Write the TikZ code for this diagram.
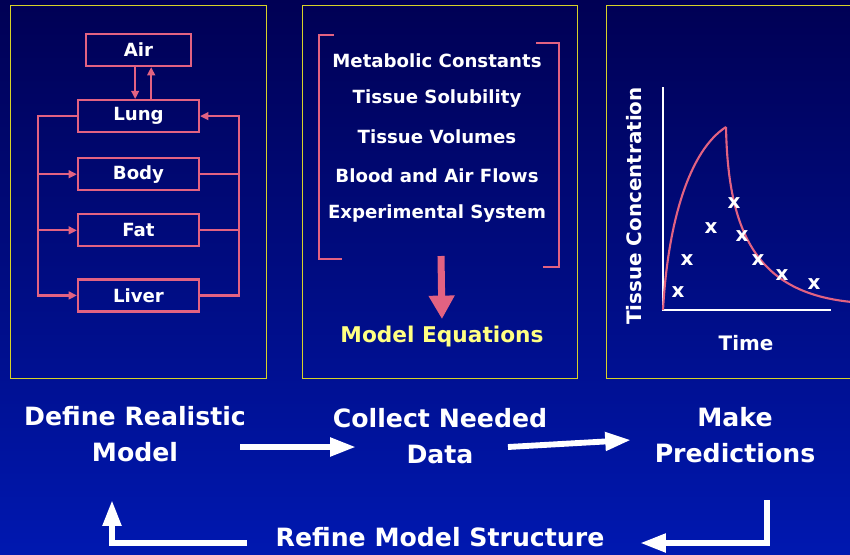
\documentclass[tikz,border=0pt]{standalone}
\usepackage{fontspec}
\setmainfont{DejaVu Sans}
\usetikzlibrary{arrows.meta,positioning}

\definecolor{bgtop}{RGB}{0,0,84}
\definecolor{bgbot}{RGB}{0,24,176}
\definecolor{panelline}{RGB}{214,210,40}
\definecolor{flowpink}{RGB}{226,98,130}
\definecolor{eqyellow}{RGB}{255,255,130}

\begin{document}
\begin{tikzpicture}[
  x=0.03cm, y=-0.03cm,
  panel/.style={draw=panelline, line width=0.8pt},
  organ/.style={draw=flowpink, line width=1.8pt, minimum width=3.63cm, minimum height=0.96cm,
    inner sep=0pt, text=white, font=\bfseries\fontsize{15.5}{17}\selectfont},
  link/.style={draw=flowpink, line width=1.8pt},
  linkarr/.style={link, -{Triangle[length=7pt,width=6.5pt]}},
  item/.style={text=white, font=\bfseries\fontsize{15.5}{17}\selectfont},
  fatarrow/.style={flowpink, line width=6pt, -{Triangle[length=20pt,width=21pt]}},
  axis/.style={white, line width=1.8pt},
  curve/.style={flowpink, line width=1.8pt},
  axislabel/.style={text=white, font=\bfseries\fontsize{17}{19}\selectfont},
  cross/.style={text=white, inner sep=0pt, font=\bfseries\fontsize{17}{17}\selectfont},
  stage/.style={text=white, align=center, font=\bfseries\fontsize{21.5}{31}\selectfont},
  flow/.style={white, line width=5pt, -{Triangle[length=22pt,width=15pt]}}
]
  \useasboundingbox (0,0) rectangle (850,554);
  \shade[top color=bgtop, bottom color=bgbot] (0,0) rectangle (850,554);

  % three panels
  \draw[panel] (10,5) rectangle (266,378);
  \draw[panel] (302,5) rectangle (577,378);
  \draw[panel] (606,5) rectangle (870,378);

  % compartments
  \node[organ, minimum width=3.15cm] (air) at (138.5,50) {Air};
  \node[organ, below=0.96cm of air] (lung) {Lung};
  \node[organ, below=0.72cm of lung] (body) {Body};
  \node[organ, below=0.66cm of body] (fat) {Fat};
  \node[organ, below=0.93cm of fat] (liver) {Liver};

  \draw[linkarr] ([xshift=-0.1cm]air.south) -- ([xshift=-0.1cm]lung.north);
  \draw[linkarr] ([xshift=0.38cm]lung.north) -- ([xshift=0.38cm]air.south);

  \coordinate (lbus) at ([xshift=-1.17cm]lung.west);
  \coordinate (rbus) at ([xshift=1.17cm]lung.east);
  \draw[linkarr] (lung.west) -- (lbus) |- (liver.west);
  \draw[linkarr] (lbus |- body.west) -- (body.west);
  \draw[linkarr] (lbus |- fat.west) -- (fat.west);
  \draw[linkarr] (liver.east) -| (rbus) -- (lung.east);
  \draw[link] (body.east) -- (body.east -| rbus);
  \draw[link] (fat.east) -- (fat.east -| rbus);

  % parameters
  \node[item] (metab) at (437,61) {Metabolic Constants};
  \node[item] (solub) at (437,99) {Tissue Solubility};
  \node[item] (volume) at (437,137) {Tissue Volumes};
  \node[item] (flows) at (437,176) {Blood and Air Flows};
  \node[item] (system) at (437,214) {Experimental System};
  \draw[link] (334,35) -- (319,35) -- (319,259) -- (342,259);
  \draw[link] (536,43) -- (559,43) -- (559,267) -- (543,267);

  \node[text=eqyellow, font=\bfseries\fontsize{18.5}{20}\selectfont] (eqn) at (442,337) {Model Equations};
  \coordinate (drop) at (441,256);
  \draw[fatarrow, shorten >=0.1cm] (drop) -- (eqn.north);

  % concentration vs time
  \coordinate (orig) at (663,310);
  \coordinate (ytop) at (663,87);
  \coordinate (xend) at (831,310);
  \draw[axis] (ytop) -- (orig) -- (xend);
  \draw[curve] (orig) .. controls (668,220) and (690,150) .. (726,127);
  \draw[curve] (726,127) .. controls (728,235) and (758,293) .. (852,302);

  \node[cross] (x1) at (678,292) {x};
  \node[cross] (x2) at (687,260) {x};
  \node[cross] (x3) at (711,228) {x};
  \node[cross] (x4) at (734,203) {x};
  \node[cross] (x5) at (742,236) {x};
  \node[cross] (x6) at (758,260) {x};
  \node[cross] (x7) at (782,275) {x};
  \node[cross] (x8) at (814,284) {x};

  \node[axislabel, rotate=90] (conc) at (634,206) {Tissue Concentration};
  \node[axislabel] (time) at (746,343) {Time};

  % modelling cycle
  \node[stage] (define) at (135,434) {Define Realistic\\Model};
  \node[stage] (collect) at (440,436) {Collect Needed\\Data};
  \node[stage] (predict) at (735,435) {Make\\Predictions};
  \node[stage] (refine) at (440,537) {Refine Model Structure};

  \draw[flow] ([shift={(105,13)}]define.center) -- ([shift={(-84,11)}]collect.center);
  \draw[flow] ([shift={(68,11)}]collect.center) -- ([shift={(-104,5)}]predict.center);
  \draw[flow] ([shift={(32,65)}]predict.center) |- ([shift={(200,6)}]refine.center);
  \draw[flow] ([shift={(-193,6)}]refine.center) -| ([shift={(-23,66)}]define.center);
\end{tikzpicture}
\end{document}
